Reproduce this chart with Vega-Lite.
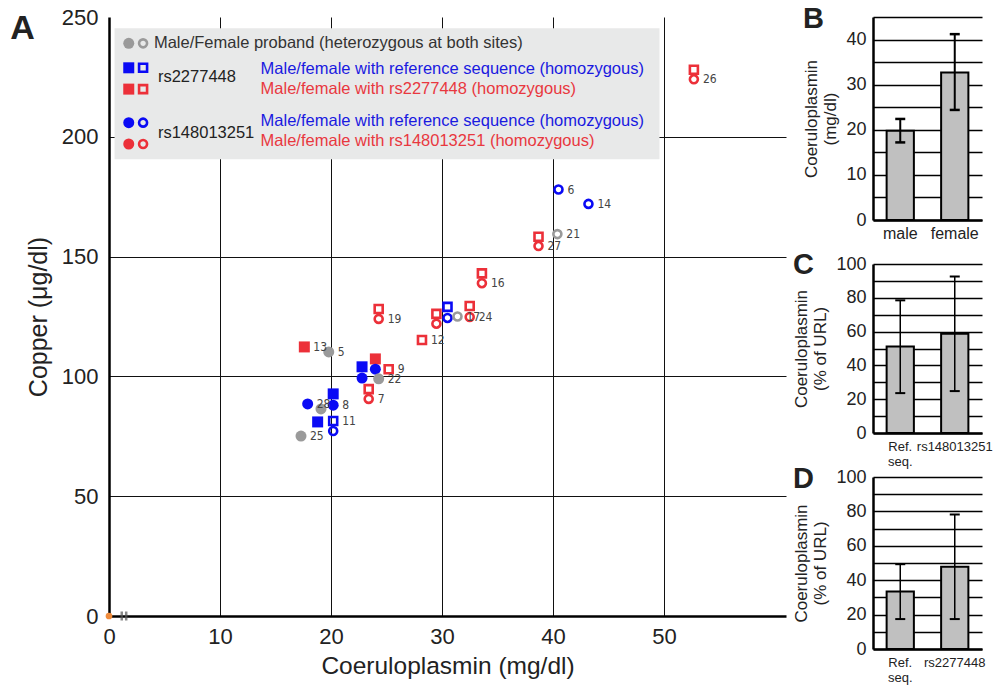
{
  "$schema": "https://vega.github.io/schema/vega-lite/v6.json",
  "background": "white",
  "padding": {"left": 10, "top": 5, "right": 5, "bottom": 5},
  "config": {
    "view": {"stroke": null},
    "font": "Liberation Sans",
    "axis": {"labelColor": "#222", "titleColor": "#222", "titleFontWeight": "normal", "domainColor": "black", "ticks": false, "gridColor": "black", "labelFlush": false, "labelOverlap": false}
  },
  "datasets": {
    "one": [{}],
    "pts": [
      {"x":52.7,"y":228,"g":"red","s":"square","f":false,"lab":""},
      {"x":52.7,"y":224,"g":"red","s":"circle","f":false,"lab":"26"},
      {"x":40.5,"y":178,"g":"blue","s":"circle","f":false,"lab":"6"},
      {"x":43.2,"y":172,"g":"blue","s":"circle","f":false,"lab":"14"},
      {"x":40.4,"y":159.4,"g":"gray","s":"circle","f":false,"lab":"21"},
      {"x":38.7,"y":158.3,"g":"red","s":"square","f":false,"lab":""},
      {"x":38.7,"y":154.4,"g":"red","s":"circle","f":false,"lab":"27"},
      {"x":33.6,"y":143,"g":"red","s":"square","f":false,"lab":""},
      {"x":33.6,"y":138.9,"g":"red","s":"circle","f":false,"lab":"16"},
      {"x":32.5,"y":129.4,"g":"red","s":"square","f":false,"lab":""},
      {"x":32.5,"y":124.8,"g":"red","s":"circle","f":false,"lab":"24"},
      {"x":29.5,"y":126.1,"g":"red","s":"square","f":false,"lab":""},
      {"x":29.5,"y":122,"g":"red","s":"circle","f":false,"lab":""},
      {"x":30.5,"y":129,"g":"blue","s":"square","f":false,"lab":""},
      {"x":30.5,"y":124.4,"g":"blue","s":"circle","f":false,"lab":""},
      {"x":31.4,"y":125,"g":"gray","s":"circle","f":false,"lab":"17"},
      {"x":28.2,"y":115.2,"g":"red","s":"square","f":false,"lab":"12"},
      {"x":24.3,"y":128.1,"g":"red","s":"square","f":false,"lab":""},
      {"x":24.3,"y":124,"g":"red","s":"circle","f":false,"lab":"19"},
      {"x":17.6,"y":112.3,"g":"red","s":"square","f":true,"lab":"13"},
      {"x":19.8,"y":110.2,"g":"gray","s":"circle","f":true,"lab":"5"},
      {"x":24.0,"y":107.3,"g":"red","s":"square","f":true,"lab":""},
      {"x":24.0,"y":103,"g":"blue","s":"circle","f":true,"lab":""},
      {"x":22.8,"y":104,"g":"blue","s":"square","f":true,"lab":""},
      {"x":22.8,"y":99.3,"g":"blue","s":"circle","f":true,"lab":""},
      {"x":25.2,"y":103,"g":"red","s":"square","f":false,"lab":"9"},
      {"x":24.3,"y":99,"g":"gray","s":"circle","f":true,"lab":"22"},
      {"x":23.4,"y":94.7,"g":"red","s":"square","f":false,"lab":""},
      {"x":23.4,"y":90.6,"g":"red","s":"circle","f":false,"lab":"7"},
      {"x":20.2,"y":92.7,"g":"blue","s":"square","f":true,"lab":""},
      {"x":20.2,"y":88,"g":"blue","s":"circle","f":true,"lab":"8"},
      {"x":17.9,"y":88.5,"g":"blue","s":"circle","f":true,"lab":"28"},
      {"x":19.1,"y":86.4,"g":"gray","s":"circle","f":true,"lab":""},
      {"x":18.8,"y":81,"g":"blue","s":"square","f":true,"lab":""},
      {"x":20.2,"y":81.4,"g":"blue","s":"square","f":false,"lab":"11"},
      {"x":20.2,"y":77.2,"g":"blue","s":"circle","f":false,"lab":""},
      {"x":17.3,"y":75.1,"g":"gray","s":"circle","f":true,"lab":"25"}
    ],
    "b": [
      {"cat":"male","mean":19.8,"lo":17.2,"hi":22.4},
      {"cat":"female","mean":32.7,"lo":24.4,"hi":41.2}
    ],
    "c": [
      {"cat":"Ref. seq.","mean":51.2,"lo":23.6,"hi":78.5},
      {"cat":"rs148013251","mean":58.8,"lo":24.8,"hi":92.6}
    ],
    "d": [
      {"cat":"Ref. seq.","mean":33.4,"lo":17.4,"hi":49.3},
      {"cat":"rs2277448","mean":47.8,"lo":17.4,"hi":78.2}
    ]
  },
  "bounds": "flush",
  "spacing": 87,
  "hconcat": [
    {
      "width": 677,
      "height": 599,
      "title": {"text": "A", "anchor": "start", "frame": "bounds", "orient": "top", "fontSize": 34, "fontWeight": "bold", "color": "#222", "baseline": "alphabetic", "dx": -16, "offset": -67},
      "layer": [
        {
          "data": {"name": "pts"},
          "transform": [{"filter": "datum.f"}],
          "mark": {"type": "point", "filled": true, "size": 121, "opacity": 1},
          "encoding": {
            "x": {"field": "x", "type": "quantitative", "scale": {"domain": [0, 61], "nice": false},
              "axis": {"title": "Coeruloplasmin (mg/dl)", "values": [0,10,20,30,40,50], "grid": true,
                "gridColor": {"condition": {"test": "datum.value === 0", "value": "transparent"}, "value": "#111"},
                "gridWidth": 1, "domainWidth": 2.5, "labelFontSize": 22, "labelPadding": 10, "titleFontSize": 24.5, "titlePadding": 7}},
            "y": {"field": "y", "type": "quantitative", "scale": {"domain": [0, 250], "nice": false},
              "axis": {"title": "Copper (μg/dl)", "values": [0,50,100,150,200,250], "grid": true,
                "gridColor": {"condition": {"test": "datum.value === 0 || datum.value === 250", "value": "transparent"}, "value": "#111"},
                "gridWidth": 1, "domainWidth": 2.5, "labelFontSize": 22, "labelPadding": 11, "titleFontSize": 25, "titlePadding": 10}},
            "shape": {"field": "s", "type": "nominal", "scale": {"domain": ["square", "circle"], "range": ["square", "circle"]}, "legend": null},
            "color": {"field": "g", "type": "nominal", "scale": {"domain": ["gray", "blue", "red"], "range": ["#9a9a9a", "#0a0af5", "#ec3039"]}, "legend": null}
          }
        },
        {
          "data": {"name": "pts"},
          "transform": [{"filter": "!datum.f"}],
          "mark": {"type": "point", "filled": false, "size": 64, "strokeWidth": 2.6, "opacity": 1},
          "encoding": {
            "x": {"field": "x", "type": "quantitative"},
            "y": {"field": "y", "type": "quantitative"},
            "shape": {"field": "s", "type": "nominal", "legend": null},
            "color": {"field": "g", "type": "nominal", "legend": null}
          }
        },
        {
          "data": {"name": "pts"},
          "transform": [{"filter": "datum.lab !== ''"}],
          "mark": {"type": "text", "align": "left", "baseline": "middle", "dx": 9, "fontSize": 12, "font": "Liberation Sans Narrow, DejaVu Sans Condensed, sans-serif", "color": "#444"},
          "encoding": {
            "x": {"field": "x", "type": "quantitative"},
            "y": {"field": "y", "type": "quantitative"},
            "text": {"field": "lab"}
          }
        },
        {"data": {"name": "one"}, "mark": {"type": "point", "filled": true, "color": "#f08c3c", "size": 45, "opacity": 1}, "encoding": {"x": {"datum": 0}, "y": {"datum": 0}}},
        {"data": {"name": "one"}, "mark": {"type": "tick", "orient": "vertical", "color": "#555", "size": 9, "thickness": 2.5}, "encoding": {"x": {"datum": 1.15}, "y": {"datum": 0}}},
        {"data": {"name": "one"}, "mark": {"type": "tick", "orient": "vertical", "color": "#555", "size": 9, "thickness": 2.5}, "encoding": {"x": {"datum": 1.55}, "y": {"datum": 0}}},
        {"data": {"name": "one"}, "mark": {"type": "rect", "fill": "#e8e9e9"}, "encoding": {"x": {"datum": 0.5}, "x2": {"datum": 49.6}, "y": {"datum": 245.3}, "y2": {"datum": 190.6}}},
        {"data": {"name": "one"}, "mark": {"type": "point", "shape": "circle", "filled": true, "size": 121, "color": "#9a9a9a", "opacity": 1}, "encoding": {"x": {"datum": 1.78}, "y": {"datum": 239.0}}},
        {"data": {"name": "one"}, "mark": {"type": "point", "shape": "circle", "filled": false, "size": 64, "strokeWidth": 2.6, "color": "#9a9a9a", "opacity": 1}, "encoding": {"x": {"datum": 3.07}, "y": {"datum": 239.0}}},
        {"data": {"name": "one"}, "mark": {"type": "point", "shape": "square", "filled": true, "size": 121, "color": "#0a0af5", "opacity": 1}, "encoding": {"x": {"datum": 1.78}, "y": {"datum": 228.8}}},
        {"data": {"name": "one"}, "mark": {"type": "point", "shape": "square", "filled": false, "size": 64, "strokeWidth": 2.6, "color": "#0a0af5", "opacity": 1}, "encoding": {"x": {"datum": 3.07}, "y": {"datum": 228.8}}},
        {"data": {"name": "one"}, "mark": {"type": "point", "shape": "square", "filled": true, "size": 121, "color": "#ec3039", "opacity": 1}, "encoding": {"x": {"datum": 1.78}, "y": {"datum": 219.9}}},
        {"data": {"name": "one"}, "mark": {"type": "point", "shape": "square", "filled": false, "size": 64, "strokeWidth": 2.6, "color": "#ec3039", "opacity": 1}, "encoding": {"x": {"datum": 3.07}, "y": {"datum": 219.9}}},
        {"data": {"name": "one"}, "mark": {"type": "point", "shape": "circle", "filled": true, "size": 121, "color": "#0a0af5", "opacity": 1}, "encoding": {"x": {"datum": 1.78}, "y": {"datum": 205.9}}},
        {"data": {"name": "one"}, "mark": {"type": "point", "shape": "circle", "filled": false, "size": 64, "strokeWidth": 2.6, "color": "#0a0af5", "opacity": 1}, "encoding": {"x": {"datum": 3.07}, "y": {"datum": 205.9}}},
        {"data": {"name": "one"}, "mark": {"type": "point", "shape": "circle", "filled": true, "size": 121, "color": "#ec3039", "opacity": 1}, "encoding": {"x": {"datum": 1.78}, "y": {"datum": 197.0}}},
        {"data": {"name": "one"}, "mark": {"type": "point", "shape": "circle", "filled": false, "size": 64, "strokeWidth": 2.6, "color": "#ec3039", "opacity": 1}, "encoding": {"x": {"datum": 3.07}, "y": {"datum": 197.0}}},
        {"data": {"name": "one"}, "mark": {"type": "text", "align": "left", "baseline": "middle", "fontSize": 16.5, "color": "#333"}, "encoding": {"x": {"datum": 4.05}, "y": {"datum": 239.0}, "text": {"value": "Male/Female proband (heterozygous at both sites)"}}},
        {"data": {"name": "one"}, "mark": {"type": "text", "align": "left", "baseline": "middle", "fontSize": 16.5, "color": "#222"}, "encoding": {"x": {"datum": 4.41}, "y": {"datum": 224.8}, "text": {"value": "rs2277448"}}},
        {"data": {"name": "one"}, "mark": {"type": "text", "align": "left", "baseline": "middle", "fontSize": 16.5, "color": "#222"}, "encoding": {"x": {"datum": 4.41}, "y": {"datum": 201.5}, "text": {"value": "rs148013251"}}},
        {"data": {"name": "one"}, "mark": {"type": "text", "align": "left", "baseline": "middle", "fontSize": 16.5, "color": "#1a1ae0"}, "encoding": {"x": {"datum": 13.66}, "y": {"datum": 228.1}, "text": {"value": "Male/female with reference sequence (homozygous)"}}},
        {"data": {"name": "one"}, "mark": {"type": "text", "align": "left", "baseline": "middle", "fontSize": 16.5, "color": "#e8383f"}, "encoding": {"x": {"datum": 13.66}, "y": {"datum": 219.9}, "text": {"value": "Male/female with rs2277448 (homozygous)"}}},
        {"data": {"name": "one"}, "mark": {"type": "text", "align": "left", "baseline": "middle", "fontSize": 16.5, "color": "#1a1ae0"}, "encoding": {"x": {"datum": 13.66}, "y": {"datum": 206.8}, "text": {"value": "Male/female with reference sequence (homozygous)"}}},
        {"data": {"name": "one"}, "mark": {"type": "text", "align": "left", "baseline": "middle", "fontSize": 16.5, "color": "#e8383f"}, "encoding": {"x": {"datum": 13.66}, "y": {"datum": 198.4}, "text": {"value": "Male/female with rs148013251 (homozygous)"}}}
      ]
    },
    {
      "vconcat": [
        {
          "width": 109, "height": 203,
          "data": {"name": "b"},
          "title": {"text": "B", "anchor": "start", "frame": "bounds", "orient": "top", "fontSize": 29, "fontWeight": "bold", "color": "#222", "baseline": "alphabetic", "offset": -49},
          "encoding": {
            "x": {"field": "cat", "type": "nominal", "sort": null, "title": null, "scale": {"paddingInner": 0.5, "paddingOuter": 0.25},
              "axis": {"labelAngle": 0, "labelFontSize": 16, "labelPadding": 5, "domainWidth": 2.5}}
          },
          "layer": [
            {"mark": {"type": "bar", "fill": "#c0c0c0", "stroke": "black", "strokeWidth": 2},
             "encoding": {"y": {"field": "mean", "type": "quantitative", "scale": {"domain": [0, 45], "nice": false},
               "axis": {"title": ["Coeruloplasmin", "(mg/dl)"], "titleFontSize": 17, "titleLineHeight": 19, "titlePadding": 6,
                 "values": [0,5,10,15,20,25,30,35,40,45], "labelExpr": "datum.value % 10 === 0 ? datum.label : ''", "labelOverlap": false,
                 "grid": true, "gridWidth": 1.5, "domainWidth": 2.5, "labelFontSize": 18, "labelPadding": 7}}}},
            {"mark": {"type": "rule", "strokeWidth": 2, "color": "black"}, "encoding": {"y": {"field": "lo", "type": "quantitative",
               "axis": {"title": ["Coeruloplasmin", "(mg/dl)"], "titleFontSize": 17, "titleLineHeight": 19, "titlePadding": 6,
                 "values": [0,5,10,15,20,25,30,35,40,45], "labelExpr": "datum.value % 10 === 0 ? datum.label : ''", "labelOverlap": false,
                 "grid": true, "gridWidth": 1.5, "domainWidth": 2.5, "labelFontSize": 18, "labelPadding": 7}}, "y2": {"field": "hi"}}},
            {"mark": {"type": "tick", "size": 10, "thickness": 2.5, "color": "black", "opacity": 1}, "encoding": {"y": {"field": "lo", "type": "quantitative",
               "axis": {"title": ["Coeruloplasmin", "(mg/dl)"], "titleFontSize": 17, "titleLineHeight": 19, "titlePadding": 6,
                 "values": [0,5,10,15,20,25,30,35,40,45], "labelExpr": "datum.value % 10 === 0 ? datum.label : ''", "labelOverlap": false,
                 "grid": true, "gridWidth": 1.5, "domainWidth": 2.5, "labelFontSize": 18, "labelPadding": 7}}}},
            {"mark": {"type": "tick", "size": 10, "thickness": 2.5, "color": "black", "opacity": 1}, "encoding": {"y": {"field": "hi", "type": "quantitative",
               "axis": {"title": ["Coeruloplasmin", "(mg/dl)"], "titleFontSize": 17, "titleLineHeight": 19, "titlePadding": 6,
                 "values": [0,5,10,15,20,25,30,35,40,45], "labelExpr": "datum.value % 10 === 0 ? datum.label : ''", "labelOverlap": false,
                 "grid": true, "gridWidth": 1.5, "domainWidth": 2.5, "labelFontSize": 18, "labelPadding": 7}}}}
          ]
        },
        {
          "width": 109, "height": 169,
          "data": {"name": "c"},
          "title": {"text": "C", "anchor": "start", "frame": "bounds", "orient": "top", "fontSize": 29, "fontWeight": "bold", "color": "#222", "baseline": "alphabetic", "offset": -48},
          "encoding": {
            "x": {"field": "cat", "type": "nominal", "sort": null, "title": null, "scale": {"paddingInner": 0.5, "paddingOuter": 0.25},
              "axis": {"labelAngle": 0, "labelFontSize": 13, "labelPadding": 7, "domainWidth": 2.5, "labelExpr": "split(datum.label, ' ')", "labelLineHeight": 15}}
          },
          "layer": [
            {"mark": {"type": "bar", "fill": "#c0c0c0", "stroke": "black", "strokeWidth": 2},
             "encoding": {"y": {"field": "mean", "type": "quantitative", "scale": {"domain": [0, 100], "nice": false},
               "axis": {"title": ["Coeruloplasmin", "(% of URL)"], "titleFontSize": 17, "titleLineHeight": 19, "titlePadding": 6,
                 "values": [0,10,20,30,40,50,60,70,80,90,100], "labelExpr": "datum.value % 20 === 0 ? datum.label : ''", "labelOverlap": false,
                 "grid": true, "gridWidth": 1.5, "domainWidth": 2.5, "labelFontSize": 18, "labelPadding": 7}}}},
            {"mark": {"type": "rule", "strokeWidth": 1.5, "color": "black"}, "encoding": {"y": {"field": "lo", "type": "quantitative",
               "axis": {"title": ["Coeruloplasmin", "(% of URL)"], "titleFontSize": 17, "titleLineHeight": 19, "titlePadding": 6,
                 "values": [0,10,20,30,40,50,60,70,80,90,100], "labelExpr": "datum.value % 20 === 0 ? datum.label : ''", "labelOverlap": false,
                 "grid": true, "gridWidth": 1.5, "domainWidth": 2.5, "labelFontSize": 18, "labelPadding": 7}}, "y2": {"field": "hi"}}},
            {"mark": {"type": "tick", "size": 10, "thickness": 2, "color": "black", "opacity": 1}, "encoding": {"y": {"field": "lo", "type": "quantitative",
               "axis": {"title": ["Coeruloplasmin", "(% of URL)"], "titleFontSize": 17, "titleLineHeight": 19, "titlePadding": 6,
                 "values": [0,10,20,30,40,50,60,70,80,90,100], "labelExpr": "datum.value % 20 === 0 ? datum.label : ''", "labelOverlap": false,
                 "grid": true, "gridWidth": 1.5, "domainWidth": 2.5, "labelFontSize": 18, "labelPadding": 7}}}},
            {"mark": {"type": "tick", "size": 10, "thickness": 2, "color": "black", "opacity": 1}, "encoding": {"y": {"field": "hi", "type": "quantitative",
               "axis": {"title": ["Coeruloplasmin", "(% of URL)"], "titleFontSize": 17, "titleLineHeight": 19, "titlePadding": 6,
                 "values": [0,10,20,30,40,50,60,70,80,90,100], "labelExpr": "datum.value % 20 === 0 ? datum.label : ''", "labelOverlap": false,
                 "grid": true, "gridWidth": 1.5, "domainWidth": 2.5, "labelFontSize": 18, "labelPadding": 7}}}}
          ]
        },
        {
          "width": 109, "height": 172,
          "data": {"name": "d"},
          "title": {"text": "D", "anchor": "start", "frame": "bounds", "orient": "top", "fontSize": 29, "fontWeight": "bold", "color": "#222", "baseline": "alphabetic", "offset": -49},
          "encoding": {
            "x": {"field": "cat", "type": "nominal", "sort": null, "title": null, "scale": {"paddingInner": 0.5, "paddingOuter": 0.25},
              "axis": {"labelAngle": 0, "labelFontSize": 13, "labelPadding": 7, "domainWidth": 2.5, "labelExpr": "split(datum.label, ' ')", "labelLineHeight": 15}}
          },
          "layer": [
            {"mark": {"type": "bar", "fill": "#c0c0c0", "stroke": "black", "strokeWidth": 2},
             "encoding": {"y": {"field": "mean", "type": "quantitative", "scale": {"domain": [0, 100], "nice": false},
               "axis": {"title": ["Coeruloplasmin", "(% of URL)"], "titleFontSize": 17, "titleLineHeight": 19, "titlePadding": 6,
                 "values": [0,10,20,30,40,50,60,70,80,90,100], "labelExpr": "datum.value % 20 === 0 ? datum.label : ''", "labelOverlap": false,
                 "grid": true, "gridWidth": 1.5, "domainWidth": 2.5, "labelFontSize": 18, "labelPadding": 7}}}},
            {"mark": {"type": "rule", "strokeWidth": 1.5, "color": "black"}, "encoding": {"y": {"field": "lo", "type": "quantitative",
               "axis": {"title": ["Coeruloplasmin", "(% of URL)"], "titleFontSize": 17, "titleLineHeight": 19, "titlePadding": 6,
                 "values": [0,10,20,30,40,50,60,70,80,90,100], "labelExpr": "datum.value % 20 === 0 ? datum.label : ''", "labelOverlap": false,
                 "grid": true, "gridWidth": 1.5, "domainWidth": 2.5, "labelFontSize": 18, "labelPadding": 7}}, "y2": {"field": "hi"}}},
            {"mark": {"type": "tick", "size": 10, "thickness": 2, "color": "black", "opacity": 1}, "encoding": {"y": {"field": "lo", "type": "quantitative",
               "axis": {"title": ["Coeruloplasmin", "(% of URL)"], "titleFontSize": 17, "titleLineHeight": 19, "titlePadding": 6,
                 "values": [0,10,20,30,40,50,60,70,80,90,100], "labelExpr": "datum.value % 20 === 0 ? datum.label : ''", "labelOverlap": false,
                 "grid": true, "gridWidth": 1.5, "domainWidth": 2.5, "labelFontSize": 18, "labelPadding": 7}}}},
            {"mark": {"type": "tick", "size": 10, "thickness": 2, "color": "black", "opacity": 1}, "encoding": {"y": {"field": "hi", "type": "quantitative",
               "axis": {"title": ["Coeruloplasmin", "(% of URL)"], "titleFontSize": 17, "titleLineHeight": 19, "titlePadding": 6,
                 "values": [0,10,20,30,40,50,60,70,80,90,100], "labelExpr": "datum.value % 20 === 0 ? datum.label : ''", "labelOverlap": false,
                 "grid": true, "gridWidth": 1.5, "domainWidth": 2.5, "labelFontSize": 18, "labelPadding": 7}}}}
          ]
        }
      ],
      "spacing": 44,
      "bounds": "flush"
    }
  ]
}
